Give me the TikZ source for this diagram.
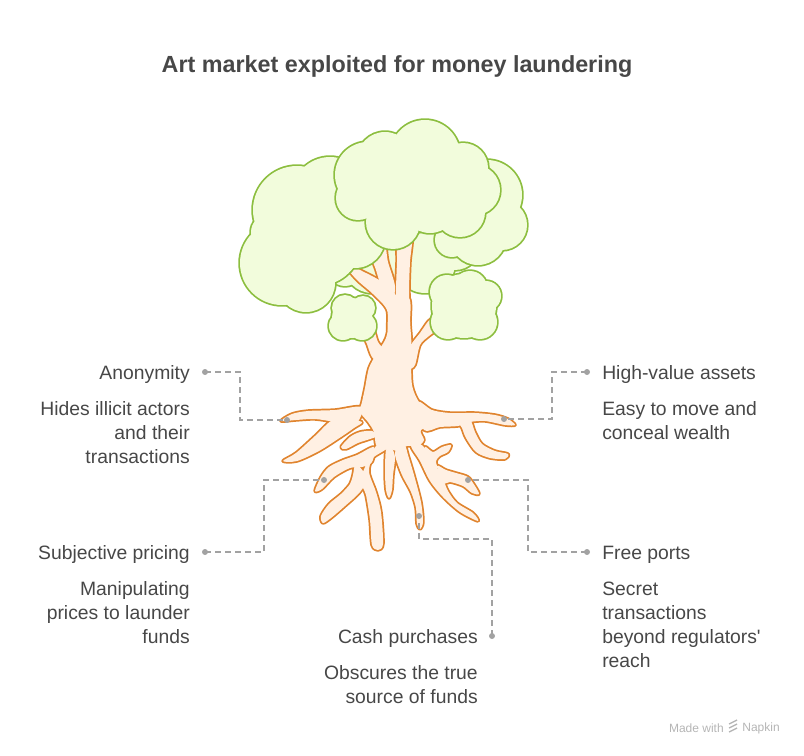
\documentclass[tikz,border=0pt]{standalone}
\usepackage{fontspec}
\setmainfont{Liberation Sans}

\definecolor{ink}{HTML}{474747}
\definecolor{wire}{HTML}{A2A2A2}
\definecolor{leafedge}{HTML}{8CBE3F}
\definecolor{leafbody}{HTML}{F2FCDC}
\definecolor{barkedge}{HTML}{E0842E}
\definecolor{barkbody}{HTML}{FFF0E3}

% crowns: one list of circles per cloud (x/y/radius, in pixels)
\newcommand\cloudM[1]{\foreach \x/\y/\r in {345/268/18, 372/265/28, 400/260/25, 425/263/30, 455/245/25}
  \path[#1] (\x,\y) circle[radius=\r];}
\newcommand\cloudR[1]{\foreach \x/\y/\r in {487/195/35, 502/225/25, 478/237/28, 452/240/17}
  \path[#1] (\x,\y) circle[radius=\r];}
\newcommand\cloudL[1]{\foreach \x/\y/\r in {297/210/44, 330/195/38, 282/263/42, 306/283/29, 268/232/17, 355/238/30, 338/258/18, 320/245/40}
  \path[#1] (\x,\y) circle[radius=\r];}
\newcommand\cloudT[1]{\foreach \x/\y/\r in {368/175/33, 385/160/28, 425/155/35, 463/168/25, 475/190/25, 460/212/25, 430/205/28, 393/222/27, 358/198/22, 420/185/35}
  \path[#1] (\x,\y) circle[radius=\r];}
\newcommand\cloudS[1]{\foreach \x/\y/\r in {352/318/20, 343/326/14, 362/326/14, 345/308/13, 363/308/12}
  \path[#1] (\x,\y) circle[radius=\r];}
\newcommand\cloudRL[1]{\foreach \x/\y/\r in {464/306/32, 448/322/17, 480/322/17, 486/296/15, 447/292/17, 470/288/17}
  \path[#1] (\x,\y) circle[radius=\r];}

% trunk, branches and roots
\newcommand\bark[1]{
  % stem and branches
  \path[#1] plot[smooth cycle] coordinates {(396,330) (396,290) (397,262) (398,236) (412,234) (410,262) (409,292) (410,322) (411,345) (403,350)};
  \path[#1] plot[smooth cycle] coordinates {(343,262) (362,271) (382,282) (397,298) (397,332) (388,332) (387,310) (373,294) (356,279)};
  \path[#1] plot[smooth cycle] coordinates {(370,250) (384,243) (388,262) (395,286) (392,300) (382,288) (376,270)};
  \path[#1] plot[smooth cycle] coordinates {(361,329) (372,326) (378,342) (385,352) (381,364) (372,357) (367,344)};
  \path[#1] plot[smooth cycle] coordinates {(408,350) (420,333) (431,319) (441,326) (429,336) (420,345) (415,365) (409,368)};
  % body
  \path[#1] plot[smooth cycle] coordinates {(388,298) (389,320) (386,338) (377,353) (369,368) (365,388) (362,402) (360,412) (368,422) (374,432) (376,445) (382,450) (390,449) (398,451) (407,446) (418,446) (424,440) (421,430) (440,425) (458,421) (445,414) (430,411) (419,402) (412,385) (411,355) (410,325) (409,298)};
  % roots
  \path[#1] plot[smooth cycle] coordinates {(362,407) (335,410) (308,411) (292,414) (281,421) (296,420) (315,419) (335,422) (355,425)};
  \path[#1] plot[smooth cycle] coordinates {(345,419) (331,421) (315,436) (296,453) (283,461) (297,461) (319,451) (341,437) (354,428) (362,422)};
  \path[#1] plot[smooth cycle] coordinates {(341,447) (350,437) (360,432) (372,431) (377,436) (370,439) (358,443) (346,449)};
  \path[#1] plot[smooth cycle] coordinates {(374,447) (357,455) (343,460) (329,467) (321,477) (315,491) (322,489) (334,477) (350,468) (362,467) (372,462)};
  \path[#1] plot[smooth cycle] coordinates {(356,464) (353,475) (350,484) (341,494) (329,504) (321,516) (323,523) (331,518) (345,506) (360,492) (367,478)};
  \path[#1] plot[smooth cycle] coordinates {(361,478) (366,495) (370,520) (372,545) (378,550) (383,544) (381,512) (376,492) (369,472) (373,458) (386,449) (376,446)};
  \path[#1] plot[smooth cycle] coordinates {(386,450) (385,472) (386,490) (389,498) (392,490) (393,475) (395,457) (391,447)};
  \path[#1] plot[smooth cycle] coordinates {(395,455) (402,475) (411,492) (416,508) (417,524) (420,529) (423,522) (421,502) (414,475) (408,455) (405,446) (398,447)};
  \path[#1] plot[smooth cycle] coordinates {(411,446) (420,461) (430,481) (443,497) (460,512) (478,521) (473,513) (457,503) (448,491) (443,479) (436,466) (428,452) (420,444)};
  \path[#1] plot[smooth cycle] coordinates {(437,466) (446,470) (456,473) (468,477) (475,486) (479,494) (472,493) (463,486) (450,482) (443,483)};
  \path[#1] plot[smooth cycle] coordinates {(425,447) (433,452) (442,447) (451,445) (448,452) (440,456) (436,461) (437,468) (430,466)};
  \path[#1] plot[smooth cycle] coordinates {(418,402) (432,410) (450,413) (475,413) (495,415) (508,419) (515,425) (505,425) (485,421) (470,422) (458,426) (440,427) (424,430)};
  \path[#1] plot[smooth cycle] coordinates {(459,422) (470,420) (475,432) (482,444) (495,451) (508,454) (505,459) (490,458) (476,452) (466,438) (462,428)};
}

\begin{document}
\begin{tikzpicture}[x=0.75pt,y=-0.75pt,
    leafline/.style={draw=leafedge,line width=2.6pt},
    leaffill/.style={fill=leafbody},
    barkline/.style={draw=barkedge,line width=2.6pt,line join=round},
    barkfill/.style={fill=barkbody},
    conn/.style={draw=wire,line width=1.5pt,dash pattern=on 4.5pt off 3pt},
    head/.style={text=ink,inner sep=0pt,font=\fontsize{14.5}{18}\selectfont},
    body/.style={head},
    brand/.style={text=wire!80,inner sep=0pt,font=\fontsize{9}{11}\selectfont}]

  \useasboundingbox (0,0) rectangle (804,756);

  \node[text=ink,font=\fontsize{17.5}{21}\selectfont\bfseries] (title) at (397,67) {Art market exploited for money laundering};

  % tree, back to front
  \cloudM{leafline} \cloudM{leaffill}
  \cloudR{leafline} \cloudR{leaffill}
  \bark{barkline} \bark{barkfill}
  \cloudL{leafline} \cloudL{leaffill}
  \cloudT{leafline} \cloudT{leaffill}
  \cloudS{leafline} \cloudS{leaffill}
  \cloudRL{leafline} \cloudRL{leaffill}

  % labels (multi-line nodes sit on the baseline of their last line)
  \node[head,anchor=base east] (anon) at (190,379) {Anonymity};
  \node[body,anchor=base east,align=right] (anonTxt) at (190,463.5) {Hides illicit actors\\and their\\transactions};
  \node[head,anchor=base west] (value) at (602,379) {High-value assets};
  \node[body,anchor=base west,align=left] (valueTxt) at (602,439.5) {Easy to move and\\conceal wealth};
  \node[head,anchor=base east] (price) at (190,559) {Subjective pricing};
  \node[body,anchor=base east,align=right] (priceTxt) at (190,643.5) {Manipulating\\prices to launder\\funds};
  \node[head,anchor=base west] (ports) at (602,559) {Free ports};
  \node[body,anchor=base west,align=left] (portsTxt) at (602,667.5) {Secret\\transactions\\beyond regulators\textquotesingle\\reach};
  \node[head,anchor=base east] (cash) at (478,643) {Cash purchases};
  \node[body,anchor=base east,align=right] (cashTxt) at (478,703.5) {Obscures the true\\source of funds};

  % connectors
  \coordinate (anonDot)   at (205,372);
  \coordinate (anonKnee)  at (240,372);
  \coordinate (anonEnd)   at (287,420);
  \coordinate (valueDot)  at (587,372);
  \coordinate (valueKnee) at (552,372);
  \coordinate (valueEnd)  at (504,419);
  \coordinate (priceDot)  at (205,552);
  \coordinate (priceKnee) at (264,552);
  \coordinate (priceEnd)  at (324,480);
  \coordinate (portsDot)  at (587,552);
  \coordinate (portsKnee) at (528,552);
  \coordinate (portsEnd)  at (468,480);
  \coordinate (cashDot)   at (492,636);
  \coordinate (cashKnee)  at (492,539);
  \coordinate (cashEnd)   at (419,516);

  \draw[conn] (anonDot) -- (anonKnee) |- (anonEnd);
  \draw[conn] (valueDot) -- (valueKnee) |- (valueEnd);
  \draw[conn] (priceDot) -- (priceKnee) |- (priceEnd);
  \draw[conn] (portsDot) -- (portsKnee) |- (portsEnd);
  \draw[conn] (cashDot) -- (cashKnee) -| (cashEnd);
  \foreach \p in {anonDot,anonEnd,valueDot,valueEnd,priceDot,priceEnd,portsDot,portsEnd,cashDot,cashEnd}
    \fill[wire] (\p) circle[radius=3];

  % watermark
  \node[brand,anchor=east] (made) at (724,728) {Made with};
  \node[brand,anchor=east] (napkin) at (780,728) {Napkin};
  \foreach \d in {-4,0,4}
    \draw[wire!80,line width=1pt] (729,728+\d) -- (737,724+\d);

\end{tikzpicture}
\end{document}
